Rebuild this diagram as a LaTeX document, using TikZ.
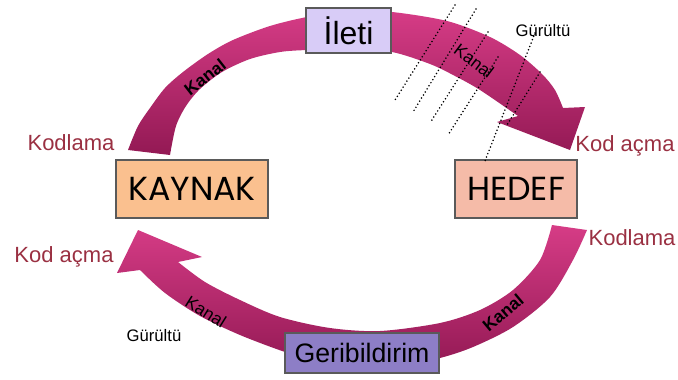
\documentclass[tikz,border=0pt]{standalone}
\usepackage{fontspec}
\setmainfont{Liberation Sans}
\newfontfamily\boxfont{Poppins}
\usepackage{tikz}
\usetikzlibrary{positioning}
\definecolor{arcLight}{HTML}{D63C86}
\definecolor{arcDark}{HTML}{931954}
\definecolor{codered}{HTML}{9A3042}
\definecolor{kaynakfill}{HTML}{FAC08F}
\definecolor{hedeffill}{HTML}{F5BBA8}
\definecolor{iletifill}{HTML}{D8CCF7}
\definecolor{geribfill}{HTML}{8D7EC6}
\definecolor{boxline}{HTML}{5A5A5A}
\tikzset{
	codetext/.style={font=\fontsize{16.5}{18}\selectfont, text=codered}
}
\tikzset{
	noisetext/.style={font=\fontsize{12.5}{14}\selectfont}
}
\tikzset{
	kanaltext/.style={font=\fontsize{13}{15}\selectfont},
	partbox/.style={draw=boxline, line width=0.8pt, inner sep=0pt},
	noise/.style={line width=1.3pt, line cap=round, dash pattern=on 0pt off 2.7pt}
}

\begin{document}
\begin{tikzpicture}[x=0.75pt, y=-0.75pt]
      \useasboundingbox (0,0) rectangle (678,379);
      % upper channel: source to destination
      \shade[top color=arcLight, bottom color=arcDark]
        plot[smooth] coordinates {(128,150) (138,126) (150,108) (165,88) (183,72) (208,54) (233,40) (270,26) (307,17) (350,11) (392,12) (447,21) (490,37) (520,55) (542,74) (555,90) (563,108)}
        -- (585,107) -- (570,150) -- (497,122)
        -- plot[smooth] coordinates {(518,116) (480,90) (455,76) (430,64) (392,52) (350,49) (307,50) (280,52) (250,59) (222,72) (200,89) (186,106) (176,126) (170,155)}
        -- cycle;
      % lower channel: feedback back to the source
      \shade[top color=arcLight, bottom color=arcDark]
        plot[smooth] coordinates {(587,230) (573,260) (550,297) (513,327) (473,347) (440,358) (400,366) (360,367) (320,362) (285,352) (240,335) (200,316) (165,293) (140,270)}
        -- (117,273) -- (138,230) -- (202,257)
        -- plot[smooth] coordinates {(178,262) (205,282) (240,300) (280,317) (330,328) (380,331) (440,323) (480,310) (513,290) (540,260) (552,225)}
        -- cycle;
      \node[partbox, fill=kaynakfill, minimum width=114pt, minimum height=43.5pt, font=\boxfont\fontsize{25}{28}\selectfont] (kaynak) at (192,189) {KAYNAK};
      \node[partbox, fill=hedeffill, minimum width=91.5pt, minimum height=43.5pt, font=\boxfont\fontsize{25}{28}\selectfont] (hedef) at (516,189) {HEDEF};
      \node[partbox, fill=iletifill, minimum width=63.75pt, minimum height=33.75pt, font=\fontsize{24}{26}\selectfont] (ileti) at (348.5,30.5) {İleti};
      \node[partbox, fill=geribfill, minimum width=115.5pt, minimum height=30pt, font=\fontsize{20}{22}\selectfont] (geri) at (362,353) {Geribildirim};
      % noise crossing the upper channel
      \draw[noise] (455,5) -- (395,100);
      \draw[noise] (476,9) -- (413,112);
      \draw[noise] (488,32) -- (430,123);
      \draw[noise] (498,57) -- (448,135);
      \draw[noise] (535,33) -- (485,161);
      \draw[noise] (540,72) -- (507,125);
      \node[kanaltext, font=\bfseries\fontsize{13}{15}\selectfont, rotate=38] (kanalA) at (205,77) {Kanal};
      \node[kanaltext, rotate=-37] (kanalB) at (474,61) {Kanal};
      \node[kanaltext, rotate=-32] (kanalC) at (206,312) {Kanal};
      \node[kanaltext, font=\bfseries\fontsize{13}{15}\selectfont, rotate=40] (kanalD) at (503,313) {Kanal};
      \node[noisetext] (noiseA) at (543,31) {Gürültü};
      \node[noisetext] (noiseB) at (154,336) {Gürültü};
      \node[codetext] (encA) at (71,143) {Kodlama};
      \node[codetext] (decA) at (64,257) {Kod açma};
      \node[codetext] (decB) at (625,146) {Kod açma};
      \node[codetext] (encB) at (632,238) {Kodlama};
    \end{tikzpicture}
\end{document}
